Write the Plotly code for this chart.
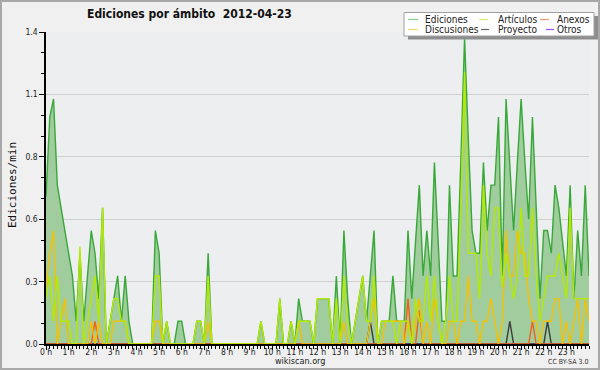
import plotly.graph_objects as go

# ---- data: 10-minute bins, 0:00 .. 24:00 (edits per minute) ----
minutes = list(range(0, 1441, 10))

ediciones = [
    0.65, 1.0, 1.08, 0.7, 0.6, 0.5,      # 0h
    0.4, 0.3, 0.1, 0.4, 0.1, 0.3,        # 1h
    0.5, 0.4, 0.2, 0.6, 0.0, 0.1,        # 2h
    0.2, 0.3, 0.1, 0.3, 0.1, 0.0,        # 3h
    0.0, 0.0, 0.0, 0.0, 0.0, 0.5,        # 4h
    0.4, 0.0, 0.1, 0.0, 0.0, 0.1,        # 5h
    0.1, 0.0, 0.0, 0.0, 0.1, 0.1,        # 6h
    0.0, 0.4, 0.0, 0.0, 0.0, 0.0,        # 7h
    0.0, 0.0, 0.0, 0.0, 0.0, 0.0,        # 8h
    0.0, 0.0, 0.0, 0.1, 0.0, 0.0,        # 9h
    0.0, 0.0, 0.2, 0.0, 0.0, 0.1,        # 10h
    0.0, 0.2, 0.1, 0.1, 0.1, 0.0,        # 11h
    0.2, 0.2, 0.2, 0.2, 0.0, 0.3,        # 12h
    0.0, 0.5, 0.2, 0.0, 0.1, 0.2,        # 13h
    0.3, 0.1, 0.3, 0.5, 0.0, 0.1,        # 14h
    0.1, 0.1, 0.3, 0.1, 0.1, 0.1,        # 15h
    0.5, 0.2, 0.45, 0.7, 0.3, 0.5,       # 16h
    0.3, 0.8, 0.45, 0.1, 0.1, 0.7,       # 17h
    0.3, 0.3, 0.8, 1.35, 0.9, 0.5,       # 18h
    0.4, 0.4, 0.8, 0.5, 0.7, 0.7,        # 19h
    1.0, 0.3, 1.08, 0.8, 0.5, 0.8,       # 20h
    1.08, 0.8, 0.55, 1.0, 0.6, 0.2,      # 21h
    0.5, 0.5, 0.4, 0.7, 0.6, 0.45,       # 22h
    0.3, 0.7, 0.2, 0.5, 0.3, 0.7,        # 23h
    0.3,
]

articulos = [
    0.2, 0.3, 0.1, 0.3, 0.1, 0.1,
    0.1, 0.0, 0.0, 0.43, 0.0, 0.1,
    0.2, 0.3, 0.1, 0.6, 0.0, 0.1,
    0.2, 0.2, 0.1, 0.1, 0.0, 0.0,
    0.0, 0.0, 0.0, 0.0, 0.0, 0.3,
    0.3, 0.0, 0.1, 0.0, 0.0, 0.0,
    0.0, 0.0, 0.0, 0.0, 0.1, 0.1,
    0.0, 0.3, 0.0, 0.0, 0.0, 0.0,
    0.0, 0.0, 0.0, 0.0, 0.0, 0.0,
    0.0, 0.0, 0.0, 0.1, 0.0, 0.0,
    0.0, 0.0, 0.2, 0.0, 0.0, 0.1,
    0.0, 0.1, 0.1, 0.1, 0.1, 0.0,
    0.2, 0.2, 0.2, 0.2, 0.0, 0.2,
    0.0, 0.3, 0.1, 0.0, 0.1, 0.2,
    0.3, 0.1, 0.1, 0.3, 0.0, 0.1,
    0.1, 0.1, 0.1, 0.0, 0.1, 0.1,
    0.1, 0.0, 0.2, 0.1, 0.1, 0.3,
    0.1, 0.3, 0.1, 0.0, 0.1, 0.3,
    0.1, 0.1, 0.6, 1.2, 0.4, 0.4,
    0.4, 0.2, 0.7, 0.4, 0.3, 0.6,
    0.6, 0.25, 0.4, 0.3, 0.2, 0.3,
    0.6, 0.3, 0.3, 0.6, 0.3, 0.1,
    0.2, 0.3, 0.3, 0.3, 0.4, 0.3,
    0.2, 0.6, 0.2, 0.2, 0.2, 0.2,
    0.2,
]

discusiones = [
    0.25, 0.4, 0.5, 0.0, 0.1, 0.2,
    0.0, 0.0, 0.0, 0.0, 0.0, 0.0,
    0.1, 0.0, 0.1, 0.0, 0.0, 0.0,
    0.1, 0.1, 0.1, 0.1, 0.0, 0.0,
    0.0, 0.0, 0.0, 0.0, 0.0, 0.1,
    0.1, 0.0, 0.0, 0.0, 0.0, 0.0,
    0.0, 0.0, 0.0, 0.0, 0.0, 0.0,
    0.0, 0.1, 0.0, 0.0, 0.0, 0.0,
    0.0, 0.0, 0.0, 0.0, 0.0, 0.0,
    0.0, 0.0, 0.0, 0.0, 0.0, 0.0,
    0.0, 0.0, 0.0, 0.0, 0.0, 0.0,
    0.0, 0.1, 0.0, 0.0, 0.0, 0.0,
    0.0, 0.0, 0.0, 0.0, 0.0, 0.0,
    0.0, 0.1, 0.0, 0.0, 0.0, 0.0,
    0.0, 0.0, 0.1, 0.2, 0.0, 0.0,
    0.1, 0.1, 0.1, 0.1, 0.1, 0.0,
    0.1, 0.0, 0.1, 0.2, 0.0, 0.1,
    0.0, 0.2, 0.1, 0.0, 0.0, 0.1,
    0.1, 0.0, 0.1, 0.1, 0.3, 0.1,
    0.1, 0.0, 0.1, 0.1, 0.2, 0.1,
    0.0, 0.1, 0.5, 0.3, 0.3, 0.5,
    0.4, 0.4, 0.2, 0.1, 0.1, 0.0,
    0.1, 0.1, 0.1, 0.2, 0.2, 0.0,
    0.1, 0.0, 0.1, 0.2, 0.0, 0.2,
    0.1,
]

anexos = [
    0, 0, 0, 0, 0, 0,
    0, 0, 0, 0, 0, 0,
    0, 0.1, 0, 0, 0, 0,
    0, 0, 0, 0, 0, 0,
    0, 0, 0, 0, 0, 0,
    0, 0, 0, 0, 0, 0,
    0, 0, 0, 0, 0, 0,
    0, 0, 0, 0, 0, 0,
    0, 0, 0, 0, 0, 0,
    0, 0, 0, 0, 0, 0,
    0, 0, 0, 0, 0, 0,
    0, 0, 0, 0, 0, 0,
    0, 0, 0, 0, 0, 0,
    0, 0, 0, 0, 0, 0,
    0, 0, 0, 0, 0, 0,
    0, 0, 0, 0, 0, 0,
    0.2, 0, 0, 0.15, 0, 0,
    0, 0, 0, 0, 0, 0,
    0, 0, 0, 0, 0, 0,
    0, 0, 0, 0, 0, 0,
    0, 0, 0, 0, 0, 0,
    0, 0, 0, 0.1, 0, 0,
    0, 0, 0, 0, 0, 0,
    0, 0, 0, 0, 0, 0,
    0,
]

proyecto = [
    0, 0, 0, 0, 0, 0,
    0, 0, 0, 0, 0, 0,
    0, 0, 0, 0, 0, 0,
    0, 0, 0, 0, 0, 0,
    0, 0, 0, 0, 0, 0,
    0, 0, 0, 0, 0, 0,
    0, 0, 0, 0, 0, 0,
    0, 0, 0, 0, 0, 0,
    0, 0, 0, 0, 0, 0,
    0, 0, 0, 0, 0, 0,
    0, 0, 0, 0, 0, 0,
    0, 0, 0, 0, 0, 0,
    0, 0, 0, 0, 0, 0,
    0, 0, 0, 0, 0, 0,
    0, 0, 0.1, 0, 0, 0,
    0, 0, 0, 0, 0, 0,
    0, 0, 0, 0, 0, 0,
    0, 0, 0, 0, 0, 0,
    0, 0, 0, 0, 0, 0,
    0, 0, 0, 0, 0, 0,
    0, 0, 0, 0.1, 0, 0,
    0, 0, 0, 0, 0, 0,
    0, 0.1, 0, 0, 0, 0,
    0, 0, 0, 0, 0, 0,
    0,
]

otros = [0] * 145

hour_ticks = list(range(24))
hour_labels = [f"{h} h" for h in hour_ticks]
y_tickvals = [0, 0.275, 0.55, 0.825, 1.1, 1.375]
y_ticktext = ["0.0", "0.3", "0.6", "0.8", "1.1", "1.4"]

series = [
    ("Ediciones", ediciones, "#38a838"),
    ("Artículos", articulos, "#b4ea00"),
    ("Discusiones", discusiones, "#f4c000"),
    ("Anexos", anexos, "#f0601a"),
    ("Proyecto", proyecto, "#3c3c3c"),
    ("Otros", otros, "#8844ee"),
]
legend_colors = {
    "Ediciones": "#86d086", "Artículos": "#d2f070", "Anexos": "#f39a6c",
    "Discusiones": "#f7d86a", "Proyecto": "#666666", "Otros": "#9955ee",
}

# ---- geometry helpers (pixels -> paper) ----
W, H = 600, 370
ML, MR, MT, MB = 46, 11, 32, 26
PW, PH = W - ML - MR, H - MT - MB


def px(x):
    return (x - ML) / PW


def py(y):
    return (H - MB - y) / PH


FONT = "DejaVu Sans Condensed, DejaVu Sans, sans-serif"

fig = go.Figure()
hours = [m / 60 for m in minutes]

name, vals, col = series[0]
fig.add_trace(go.Scatter(x=hours, y=vals, mode="lines", name=name,
                         line=dict(color=col, width=1.4),
                         fill="tozeroy", fillcolor="#a0cc9e"))
for name, vals, col in reversed(series[1:]):
    fig.add_trace(go.Scatter(x=hours, y=vals, mode="lines", name=name,
                             line=dict(color=col, width=1.4)))

shapes = []
annotations = []

# outer frame
shapes.append(dict(type="rect", xref="paper", yref="paper",
                   x0=px(1), x1=px(599), y0=py(369), y1=py(1),
                   line=dict(color="#a8a8a8", width=2), fillcolor="rgba(0,0,0,0)"))

# legend box with shadow
shapes.append(dict(type="rect", xref="paper", yref="paper",
                   x0=px(408), x1=px(598), y0=py(39.5), y1=py(16),
                   line=dict(width=0), fillcolor="#8e8e8e"))
shapes.append(dict(type="rect", xref="paper", yref="paper",
                   x0=px(404), x1=px(594), y0=py(36), y1=py(12.5),
                   line=dict(color="#a0a0a0", width=1), fillcolor="#ffffff"))

legend_layout = [
    ("Ediciones", 408, 418, 423, 19.5),
    ("Artículos", 479, 488, 496, 19.5),
    ("Anexos", 540, 549, 555, 19.5),
    ("Discusiones", 408, 418, 423, 29.5),
    ("Proyecto", 481, 489, 496, 29.5),
    ("Otros", 546, 554, 555, 29.5),
]
for name, lx0, lx1, tx, ty in legend_layout:
    shapes.append(dict(type="line", xref="paper", yref="paper",
                       x0=px(lx0), x1=px(lx1), y0=py(ty), y1=py(ty),
                       line=dict(color=legend_colors[name], width=1.2)))
    annotations.append(dict(text=name, xref="paper", yref="paper",
                            x=px(tx), y=py(ty), xanchor="left", yanchor="middle",
                            showarrow=False, font=dict(family=FONT, size=10, color="#222")))

annotations += [
    dict(text="<b>Ediciones por ámbito  2012-04-23</b>", xref="paper", yref="paper",
         x=px(85), y=py(14.5), xanchor="left", yanchor="middle", showarrow=False,
         font=dict(family=FONT, size=12, color="#111")),
    dict(text="Ediciones/min", xref="paper", yref="paper", x=px(12), y=py(185),
         xanchor="center", yanchor="middle", textangle=-90, showarrow=False,
         font=dict(family="DejaVu Sans Mono, monospace", size=11, color="#111")),
    dict(text="wikiscan.org", xref="paper", yref="paper", x=px(300), y=py(361),
         xanchor="center", yanchor="middle", showarrow=False,
         font=dict(family=FONT, size=9, color="#222")),
    dict(text="CC BY-SA 3.0", xref="paper", yref="paper", x=px(590), y=py(362),
         xanchor="right", yanchor="middle", showarrow=False,
         font=dict(family=FONT, size=7, color="#333")),
]

fig.update_layout(
    template="none",
    width=W, height=H,
    margin=dict(l=ML, r=MR, t=MT, b=MB, pad=0, autoexpand=False),
    paper_bgcolor="#f0f0f0",
    plot_bgcolor="#eceef0",
    showlegend=False,
    shapes=shapes,
    annotations=annotations,
    xaxis=dict(
        automargin=False,
        range=[0, 24], tickmode="array", tickvals=hour_ticks, ticktext=hour_labels,
        ticks="outside", ticklen=4, tickwidth=1, tickcolor="#000",
        ticklabelstandoff=-5,
        showline=True, linecolor="#000", linewidth=2, showgrid=False, zeroline=False,
        layer="above traces",
        tickfont=dict(family=FONT, size=8.5, color="#222"),
        minor=dict(tickmode="linear", tick0=0, dtick=1 / 6, ticks="outside",
                   ticklen=3, tickcolor="#000", showgrid=False),
    ),
    yaxis=dict(
        automargin=False,
        range=[0, 1.375], tickmode="array", tickvals=y_tickvals, ticktext=y_ticktext,
        ticks="outside", ticklen=5, tickwidth=1, tickcolor="#000",
        showline=True, linecolor="#000", linewidth=1.5,
        showgrid=True, gridcolor="#cfcfcf", gridwidth=1, zeroline=False,
        layer="above traces",
        tickfont=dict(family=FONT, size=8.5, color="#222"),
        minor=dict(tickmode="linear", tick0=0, dtick=0.275 / 3, ticks="outside",
                   ticklen=3, tickcolor="#000", showgrid=False),
    ),
)

fig.write_html("out.html", config={"displayModeBar": False},
               post_script="document.body.style.margin='0px';document.body.style.padding='0px';")
